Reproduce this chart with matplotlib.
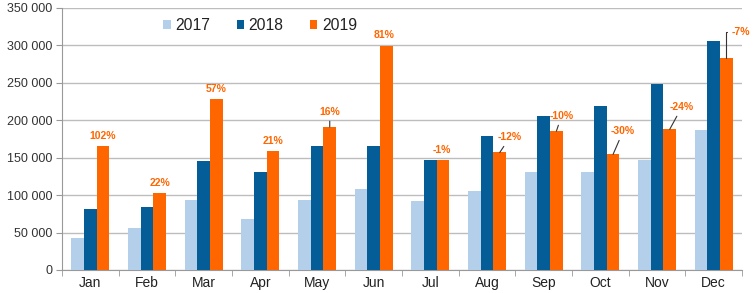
import matplotlib
matplotlib.use("Agg")
import matplotlib.pyplot as plt
import numpy as np

months = ["Jan", "Feb", "Mar", "Apr", "May", "Jun", "Jul", "Aug", "Sep", "Oct", "Nov", "Dec"]
v2017 = [43000, 56500, 93500, 68500, 93000, 108000, 92500, 106000, 130500, 131000, 146500, 187000]
v2018 = [82000, 84000, 146000, 131000, 165000, 165000, 147000, 178500, 206000, 219500, 248000, 305500]
v2019 = [166000, 103000, 228500, 159000, 191000, 299000, 146500, 157000, 185500, 154500, 188000, 283000]
pct_labels = ["102%", "22%", "57%", "21%", "16%", "81%", "-1%", "-12%", "-10%", "-30%", "-24%", "-7%"]
yticks = [0, 50000, 100000, 150000, 200000, 250000, 300000, 350000]
ytick_labels = ["0", "50 000", "100 000", "150 000", "200 000", "250 000", "300 000", "350 000"]

# label placement (pixel offsets from top of 2019 bar) and leader style
label_dx = [0, 0, 0, 0, 0, -2, -1, 10, 5, 10, 12, 14]
label_dy = [10, 10, 10, 10, 15, 11, 10, 15, 15, 23, 22, 26]
leader = [None, None, None, None, "straight", None, None, "straight", "straight", "straight", "straight", "bent"]

plt.rcParams['font.family'] = ['Liberation Sans', 'DejaVu Sans']

c17 = "#b3cfe9"
c18 = "#045d97"
c19 = "#ff6600"

fig = plt.figure(figsize=(7.54, 2.93), dpi=100)
ax = fig.add_axes([62/754, 23/293, 680/754, 262/293])

x = np.arange(len(months))
w = 0.225
ax.bar(x - w, v2017, w, color=c17, label="2017", zorder=3)
ax.bar(x, v2018, w, color=c18, label="2018", zorder=3)
ax.bar(x + w, v2019, w, color=c19, label="2019", zorder=3)

for i in range(len(months)):
    kw = dict(xy=(x[i] + w, v2019[i]), xytext=(label_dx[i], label_dy[i]),
              textcoords="offset pixels", ha="center", va="center",
              fontsize=7.5, fontweight="bold", color=c19, zorder=5)
    if leader[i] == "straight":
        kw["arrowprops"] = dict(arrowstyle="-", color="#333333", lw=0.8,
                                shrinkA=1, shrinkB=0)
    elif leader[i] == "bent":
        kw["arrowprops"] = dict(arrowstyle="-", color="#333333", lw=0.8,
                                shrinkA=1, shrinkB=0,
                                connectionstyle="angle,angleA=180,angleB=90,rad=0")
    ax.annotate(pct_labels[i], **kw)

ax.set_xlim(-0.5, len(months) - 0.5)
ax.set_ylim(0, 350000)
ax.set_yticks(yticks)
ax.set_yticklabels(ytick_labels, fontsize=9, color="#333333")
ax.set_xticks(x)
ax.set_xticklabels(months, fontsize=10, color="#222222")
ax.set_xticks(np.arange(-0.5, len(months), 1), minor=True)
ax.tick_params(axis="x", which="major", length=0, pad=4)
ax.tick_params(axis="x", which="minor", length=4, color="#999999")
ax.tick_params(axis="y", length=4, color="#999999", pad=3)
ax.grid(axis="y", color="#bdbdbd", lw=1, zorder=0)
for s in ["top", "right"]:
    ax.spines[s].set_visible(False)
for s in ["left", "bottom"]:
    ax.spines[s].set_color("#999999")

leg = ax.legend(loc="upper left", bbox_to_anchor=(0.14, 0.985), borderaxespad=0,
                ncol=3, frameon=False,
                fontsize=11.3, handlelength=0.45, handleheight=0.45, handletextpad=0.3,
                columnspacing=1.7)
for t in leg.get_texts():
    t.set_color("#222222")

fig.savefig("out.png", dpi=100)
